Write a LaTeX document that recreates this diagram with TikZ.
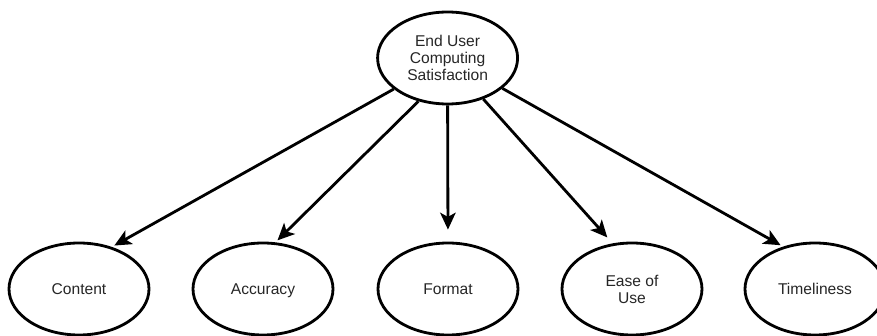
\documentclass[tikz,border=0pt]{standalone}
\usepackage{fontspec}
\setmainfont{Liberation Sans}
\usetikzlibrary{shapes.geometric,arrows.meta}

\begin{document}
\begin{tikzpicture}[font=\fontsize{11.1}{12}\selectfont,
    factor/.style={ellipse,draw,line width=2pt,minimum width=3.5cm,
                   minimum height=2.3cm,inner sep=0pt,align=center,
                   text=black!85},
    oneline/.style={factor,text height=1.5ex,text depth=0pt},
    link/.style={line width=2pt,
                 -{Stealth[length=12pt,width=11pt,inset=3pt]},
                 shorten >=2pt}]

  % Page size of the reference (877 x 336 px)
  \useasboundingbox (0,0) rectangle (21.925,8.4);

  % Top construct
  \node[factor] (eucs) at (11.19,6.95) {End User\\Computing\\Satisfaction};

  % The five factors along the bottom
  \node[oneline] (content)    at (1.975,1.175)  {Content};
  \node[oneline] (accuracy)   at (6.575,1.175)  {Accuracy};
  \node[oneline] (format)     at (11.2,1.175)   {Format};
  \node[factor]  (ease)       at (15.8,1.175)   {Ease of\\Use};
  \node[oneline] (timeliness) at (20.375,1.175) {Timeliness};

  % Arrows from the construct to each factor
  \draw[link] (eucs.210) -- (content.52);
  \draw[link] (eucs.236) -- (accuracy.75);
  \draw[link,shorten >=0.3cm] (eucs.south) -- (format.north);
  \draw[link,shorten >=0.2cm] (eucs.311) -- (ease.113);
  \draw[link] (eucs.331) -- (timeliness.127);

\end{tikzpicture}
\end{document}
